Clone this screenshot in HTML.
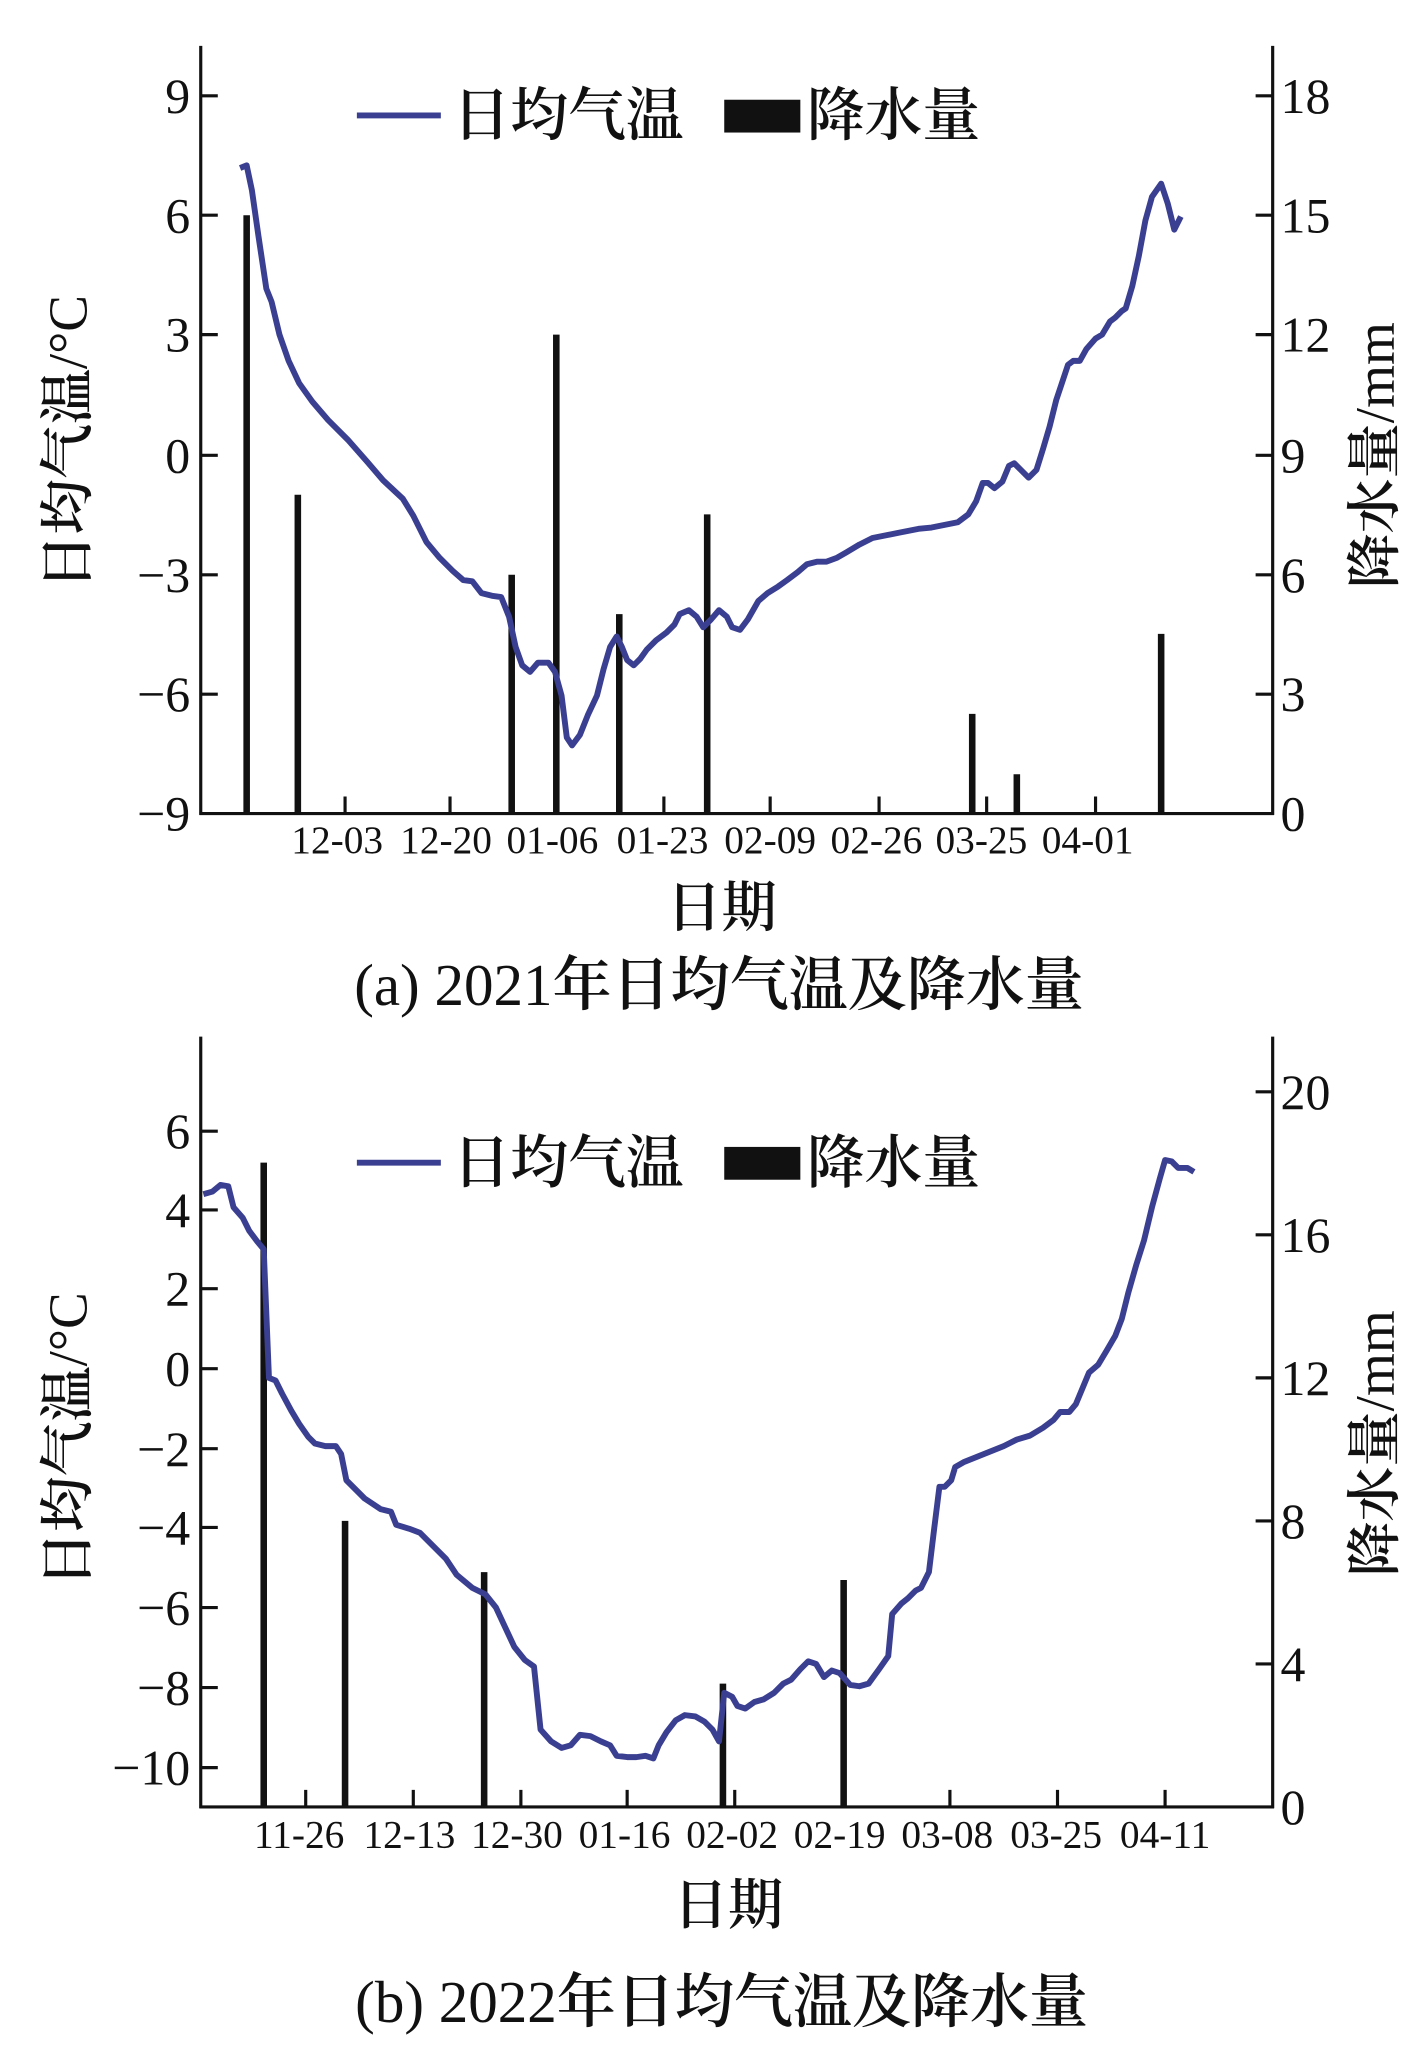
<!DOCTYPE html>
<html><head><meta charset="utf-8"><style>
html,body{margin:0;padding:0;background:#fff;}
svg{display:block;}
.t{font-family:"Liberation Serif","Noto Serif CJK SC",serif;fill:#111;}
.c{font-family:"Liberation Serif","Noto Serif CJK SC",serif;fill:#111;}
.b{font-weight:600;}
</style></head><body>
<svg width="1417" height="2055" viewBox="0 0 1080 1566" preserveAspectRatio="none" xmlns="http://www.w3.org/2000/svg">
<rect width="1080" height="1566" fill="#fff"/>
<g stroke="#111" stroke-width="2.4" fill="none">
<line x1="153" y1="35" x2="153" y2="621"/>
<line x1="970" y1="35" x2="970" y2="621"/>
<line x1="152" y1="620" x2="971" y2="620"/>
<path d="M153 73h13M153 164h13M153 255h13M153 347h13M153 438h13M153 529h13"/>
<path d="M970 73h-13M970 164h-13M970 255h-13M970 347h-13M970 438h-13M970 529h-13"/>
<path d="M263 620v-13M343 620v-13M424 620v-13M506 620v-13M587 620v-13M670 620v-13M752 620v-13M835 620v-13"/>
<line x1="153" y1="790" x2="153" y2="1378"/>
<line x1="970" y1="790" x2="970" y2="1378"/>
<line x1="152" y1="1377" x2="971" y2="1377"/>
<path d="M153 862h13M153 922h13M153 982h13M153 1043h13M153 1104h13M153 1164h13M153 1225h13M153 1286h13M153 1347h13"/>
<path d="M970 832h-13M970 941h-13M970 1050h-13M970 1159h-13M970 1268h-13"/>
<path d="M233 1377v-13M315 1377v-13M397 1377v-13M478 1377v-13M560 1377v-13M642 1377v-13M724 1377v-13M806 1377v-13M888 1377v-13"/>
</g>
<g stroke="#111" stroke-width="5">
<path d="M188 620V164M227 620V377M390 620V438M424 620V255M472 620V468M539 620V392M741 620V544M775 620V590M885 620V483"/>
<path d="M201 1377V886M263 1377V1159M369 1377V1198M551 1377V1283M643 1377V1204"/>
</g>
<polyline fill="none" stroke="#3a3f91" stroke-width="4.5" stroke-linejoin="round" points="183,128 188,126 192,145 197,180 203,220 207,230 213,255 220,275 228,292 238,306 250,320 265,335 280,352 292,366 307,380 315,393 325,413 335,425 345,435 353,442 360,443 367,452 375,454 382,455 388,470 393,493 398,507 404,512 410,505 418,505 423,512 428,530 432,562 436,568 442,560 448,545 455,530 460,510 465,493 470,485 474,493 478,503 483,507 488,502 493,495 500,488 508,482 514,476 518,468 525,465 531,470 536,478 542,472 548,465 554,470 558,478 564,480 570,472 578,458 585,452 593,447 600,442 608,436 615,430 623,428 630,428 638,425 645,421 655,415 665,410 675,408 685,406 700,403 710,402 720,400 730,398 738,392 744,382 749,368 753,368 758,372 764,367 769,355 773,353 778,358 784,364 790,358 795,342 800,325 805,305 810,290 814,278 818,275 823,275 828,266 835,258 840,255 846,245 850,242 855,237 858,235 863,218 868,195 873,168 878,150 885,140 890,155 895,175 900,165"/>
<polyline fill="none" stroke="#3a3f91" stroke-width="4.5" stroke-linejoin="round" points="155,910 162,908 168,903 174,904 178,920 185,928 190,938 196,946 201,952 205,1050 210,1052 215,1062 222,1075 228,1085 235,1095 240,1100 248,1102 256,1102 260,1108 264,1128 270,1134 278,1142 290,1150 298,1152 302,1162 312,1165 320,1168 330,1178 340,1188 348,1200 360,1210 370,1215 378,1225 385,1240 392,1255 400,1265 407,1270 412,1318 420,1327 428,1332 435,1330 442,1322 450,1323 458,1327 465,1330 470,1338 478,1339 485,1339 492,1338 498,1340 502,1330 508,1320 515,1311 522,1307 530,1308 537,1312 543,1318 548,1327 552,1290 558,1293 562,1300 568,1302 575,1297 582,1295 590,1290 597,1283 603,1280 610,1272 616,1266 622,1268 628,1278 634,1273 640,1275 648,1284 655,1285 662,1283 670,1272 677,1262 680,1230 687,1222 692,1218 698,1212 702,1210 708,1198 712,1165 716,1133 720,1133 725,1128 728,1118 735,1114 745,1110 755,1106 765,1102 775,1097 785,1094 795,1088 803,1082 808,1076 815,1076 820,1070 825,1058 830,1046 837,1040 843,1030 850,1018 855,1005 860,985 866,964 872,945 878,920 884,898 888,884 893,885 898,890 905,890 910,893"/>
<line x1="272" y1="88" x2="336" y2="88" stroke="#3a3f91" stroke-width="4.5"/>
<text class="c b" x="345" y="103" font-size="44">日均气温</text>
<rect x="552" y="76" width="58" height="25" fill="#111"/>
<text class="c b" x="615" y="103" font-size="44">降水量</text>
<line x1="272" y1="886" x2="336" y2="886" stroke="#3a3f91" stroke-width="4.5"/>
<text class="c b" x="345" y="901" font-size="44">日均气温</text>
<rect x="552" y="874" width="58" height="25" fill="#111"/>
<text class="c b" x="615" y="901" font-size="44">降水量</text>
<g class="t" font-size="38" text-anchor="end">
<text x="145" y="86">9</text><text x="145" y="177">6</text><text x="145" y="268">3</text><text x="145" y="360">0</text><text x="145" y="451">−3</text><text x="145" y="542">−6</text><text x="145" y="633">−9</text>
<text x="145" y="875">6</text><text x="145" y="935">4</text><text x="145" y="995">2</text><text x="145" y="1056">0</text><text x="145" y="1117">−2</text><text x="145" y="1177">−4</text><text x="145" y="1238">−6</text><text x="145" y="1299">−8</text><text x="145" y="1360">−10</text>
</g>
<g class="t" font-size="38" text-anchor="start">
<text x="976" y="86">18</text><text x="976" y="177">15</text><text x="976" y="268">12</text><text x="976" y="360">9</text><text x="976" y="451">6</text><text x="976" y="542">3</text><text x="976" y="633">0</text>
<text x="976" y="845">20</text><text x="976" y="954">16</text><text x="976" y="1063">12</text><text x="976" y="1172">8</text><text x="976" y="1281">4</text><text x="976" y="1390">0</text>
</g>
<g class="t" font-size="30" text-anchor="middle">
<text x="257" y="650">12-03</text><text x="340" y="650">12-20</text><text x="421" y="650">01-06</text><text x="505" y="650">01-23</text><text x="587" y="650">02-09</text><text x="668" y="650">02-26</text><text x="748" y="650">03-25</text><text x="829" y="650">04-01</text>
<text x="228" y="1408">11-26</text><text x="312" y="1408">12-13</text><text x="394" y="1408">12-30</text><text x="476" y="1408">01-16</text><text x="558" y="1408">02-02</text><text x="640" y="1408">02-19</text><text x="722" y="1408">03-08</text><text x="805" y="1408">03-25</text><text x="888" y="1408">04-11</text>
</g>
<g class="c" font-size="42" text-anchor="middle">
<text transform="translate(66,337) rotate(-90)"><tspan class="b">日均气温</tspan>/°C</text>
<text transform="translate(1062,347) rotate(-90)"><tspan class="b">降水量</tspan>/mm</text>
<text transform="translate(66,1097) rotate(-90)"><tspan class="b">日均气温</tspan>/°C</text>
<text transform="translate(1062,1100) rotate(-90)"><tspan class="b">降水量</tspan>/mm</text>
<text class="b" x="550" y="706">日期</text>
<text class="b" x="555" y="1466">日期</text>
</g>
<g class="c" font-size="45" text-anchor="middle">
<text x="548" y="766">(a) 2021<tspan class="b">年日均气温及降水量</tspan></text>
<text x="550" y="1541">(b) 2022<tspan class="b">年日均气温及降水量</tspan></text>
</g>
</svg>
</body></html>
